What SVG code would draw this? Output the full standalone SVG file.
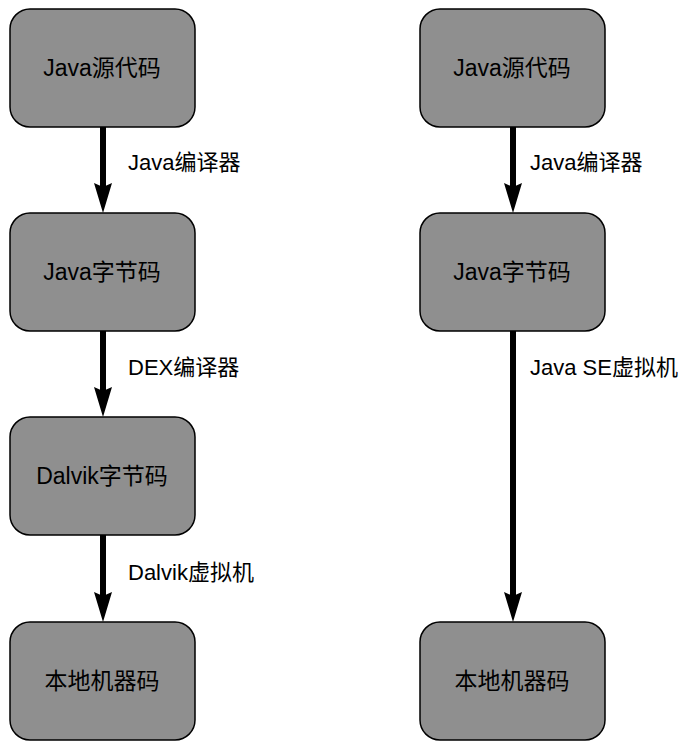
<svg xmlns="http://www.w3.org/2000/svg" width="700" height="745" viewBox="0 0 700 745">
<style>
.box{fill:#8f8f8f;stroke:#000;stroke-width:1.5}
.t{font-family:"Liberation Sans","Noto Sans CJK SC",sans-serif;font-size:23px;fill:#000;text-anchor:middle;dominant-baseline:central}
.l{font-family:"Liberation Sans","Noto Sans CJK SC",sans-serif;font-size:22px;fill:#000}
.c{stroke:#000;stroke-width:6;fill:none;marker-end:url(#ah)}
</style>
<defs>
<marker id="ah" markerUnits="userSpaceOnUse" markerWidth="30" markerHeight="20" viewBox="0 0 30 20" refX="12" refY="10" orient="auto">
<path d="M0,1 L4,10 L0,19 L30,10 Z" fill="#000"/>
</marker>
</defs>
<rect width="700" height="745" fill="#fff"/>
<g id="connectors">
<path class="c" d="M103,127 V195"/>
<path class="c" d="M103,331 V399"/>
<path class="c" d="M103,535 V604"/>
<path class="c" d="M513,127 V195"/>
<path class="c" d="M513,331 V604"/>
<text class="l" x="128" y="170">Java编译器</text>
<text class="l" x="128" y="375">DEX编译器</text>
<text class="l" x="128" y="580">Dalvik虚拟机</text>
<text class="l" x="530" y="170">Java编译器</text>
<text class="l" x="530" y="375">Java SE虚拟机</text>
</g>
<g id="n1"><rect class="box" x="10" y="9" width="185" height="118" rx="20"/><text class="t" x="102" y="68">Java源代码</text></g>
<g id="n2"><rect class="box" x="10" y="213" width="185" height="118" rx="20"/><text class="t" x="102" y="272">Java字节码</text></g>
<g id="n3"><rect class="box" x="10" y="417" width="185" height="118" rx="20"/><text class="t" x="102" y="476">Dalvik字节码</text></g>
<g id="n4"><rect class="box" x="10" y="622" width="185" height="118" rx="20"/><text class="t" x="102" y="681">本地机器码</text></g>
<g id="n5"><rect class="box" x="420" y="9" width="185" height="118" rx="20"/><text class="t" x="512" y="68">Java源代码</text></g>
<g id="n6"><rect class="box" x="420" y="213" width="185" height="118" rx="20"/><text class="t" x="512" y="272">Java字节码</text></g>
<g id="n7"><rect class="box" x="420" y="622" width="185" height="118" rx="20"/><text class="t" x="512" y="681">本地机器码</text></g>
</svg>
